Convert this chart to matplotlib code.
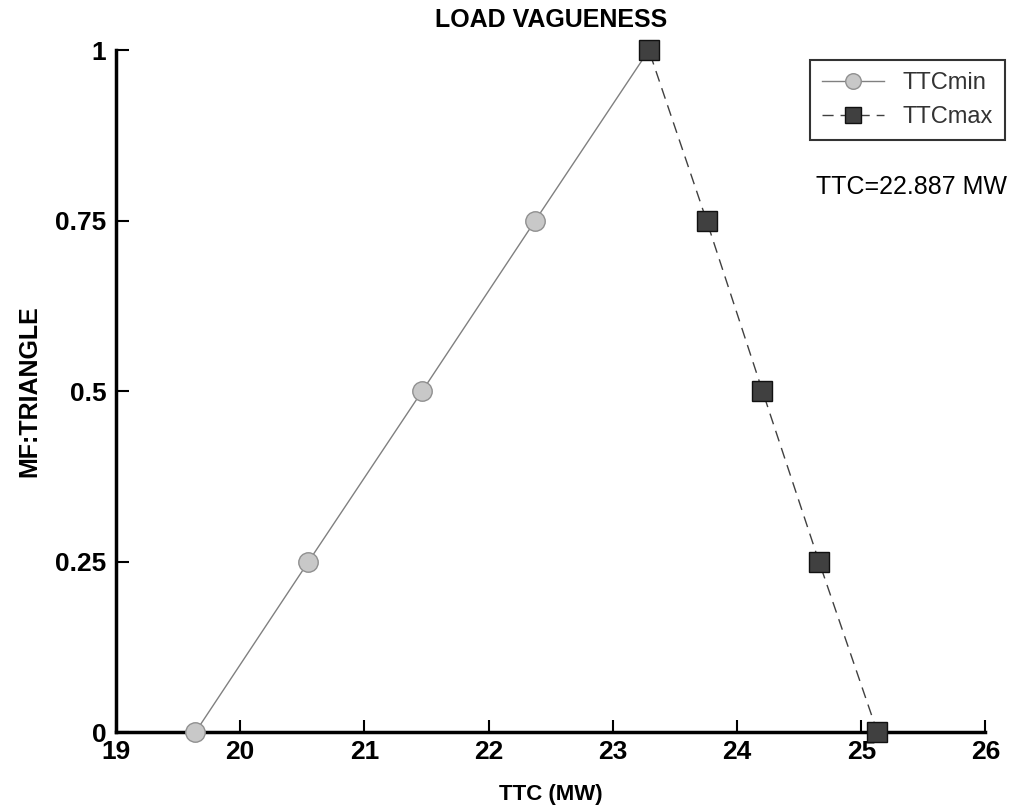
import matplotlib
matplotlib.use('Agg')
import matplotlib.pyplot as plt

# membership function points
mf_levels = [0, 0.25, 0.5, 0.75, 1]
ttc_min = [19.64, 20.55, 21.465, 22.375, 23.29]
ttc_max = [25.13, 24.66, 24.205, 23.755, 23.29]
xticks = [19, 20, 21, 22, 23, 24, 25, 26]
yticks = [0, 0.25, 0.5, 0.75, 1]
ytick_labels = ['0', '0.25', '0.5', '0.75', '1']

plt.rcParams['font.family'] = ['Liberation Sans', 'DejaVu Sans']
plt.rcParams['xtick.direction'] = 'in'
plt.rcParams['ytick.direction'] = 'in'

fig = plt.figure(figsize=(10.17, 8.09), dpi=100)
ax = fig.add_axes([0.114, 0.095, 0.855, 0.843])

ax.plot(ttc_min, mf_levels, color='#808080', linewidth=1, marker='o',
        markersize=14, markerfacecolor='#c8c8c8', markeredgecolor='#909090',
        label='TTCmin', clip_on=False, zorder=3)
ax.plot(ttc_max, mf_levels, color='#404040', linewidth=1, linestyle=(0, (8, 5)),
        marker='s', markersize=14, markerfacecolor='#404040', markeredgecolor='#111111',
        label='TTCmax', clip_on=False, zorder=4)

ax.set_xlim(19, 26)
ax.set_ylim(0, 1)
ax.set_xticks(xticks)
ax.set_yticks(yticks)
ax.set_yticklabels(ytick_labels)
ax.xaxis.set_tick_params(direction='in', length=9, width=1.5, labelsize=19, pad=6)
ax.yaxis.set_tick_params(direction='in', length=9, width=1.5, labelsize=19, pad=7)
for lab in ax.get_xticklabels() + ax.get_yticklabels():
    lab.set_fontweight('bold')

ax.spines['top'].set_visible(False)
ax.spines['right'].set_visible(False)
ax.spines['left'].set_linewidth(2.5)
ax.spines['bottom'].set_linewidth(2.5)

ax.set_title('LOAD VAGUENESS', fontsize=18, fontweight='bold', pad=17)
ax.set_xlabel('TTC (MW)', fontsize=16, fontweight='bold', labelpad=14)
ax.set_ylabel('MF:TRIANGLE', fontsize=18, fontweight='bold', labelpad=10)

leg = ax.legend(loc='upper right', bbox_to_anchor=(1.022, 0.985), borderaxespad=0,
                fontsize=17, frameon=True, fancybox=False, edgecolor='black',
                handlelength=2.6, markerscale=0.8, borderpad=0.5, labelspacing=0.5)
leg.get_frame().set_linewidth(1.5)
for t in leg.get_texts():
    t.set_color('#333333')

ax.text(0.805, 0.80, 'TTC=22.887 MW', transform=ax.transAxes, fontsize=18,
        ha='left', va='center')

fig.savefig('out.png', dpi=100)
